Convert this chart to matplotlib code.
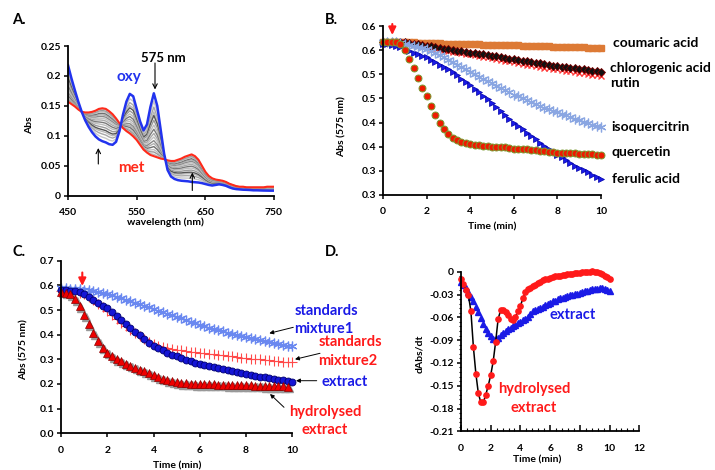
import numpy as np
import matplotlib
matplotlib.use('Agg')
import matplotlib.pyplot as plt
from matplotlib.ticker import FixedLocator, FixedFormatter, MultipleLocator, FormatStrFormatter
import matplotlib.transforms as mtrans

plt.rcParams['font.family'] = ['Lato', 'DejaVu Sans']
plt.rcParams['font.weight'] = 'bold'

# ---------------- DATA ----------------
# Panel A: spectra (5 nm steps)
wavelength = list(range(450, 751, 5))
oxy_abs = [0.218, 0.196, 0.176, 0.157, 0.140, 0.126, 0.115, 0.106, 0.099, 0.094,
           0.091, 0.089, 0.086, 0.085, 0.090, 0.108, 0.135, 0.157, 0.170, 0.166,
           0.145, 0.124, 0.109, 0.119, 0.148, 0.171, 0.150, 0.110, 0.070, 0.043,
           0.032, 0.028, 0.026, 0.025, 0.0245, 0.024, 0.023, 0.0225, 0.022, 0.021,
           0.0195, 0.018, 0.017, 0.018, 0.019, 0.018, 0.0165, 0.014, 0.012, 0.011,
           0.0105, 0.010, 0.0098, 0.0095, 0.009, 0.009, 0.0088, 0.0086, 0.0085, 0.0084, 0.0084]
met_abs = [0.157, 0.153, 0.149, 0.144, 0.140, 0.139, 0.139, 0.140, 0.142, 0.145,
           0.146, 0.145, 0.141, 0.136, 0.129, 0.121, 0.113, 0.108, 0.104, 0.099,
           0.093, 0.085, 0.077, 0.072, 0.068, 0.066, 0.064, 0.062, 0.061, 0.059,
           0.058, 0.058, 0.060, 0.062, 0.065, 0.067, 0.069, 0.066, 0.060, 0.050,
           0.040, 0.033, 0.029, 0.027, 0.026, 0.025, 0.023, 0.020, 0.018, 0.016,
           0.015, 0.015, 0.014, 0.014, 0.014, 0.014, 0.014, 0.014, 0.015, 0.015, 0.015]
# intermediate spectra: their absorbance at 575 nm
gray_575 = [0.158, 0.148, 0.140, 0.134, 0.126, 0.118, 0.111, 0.104, 0.098, 0.092,
            0.087, 0.082, 0.077, 0.073, 0.069]
gray_cols = ['#c8c8c8', '#a8a8a8', '#b8b8b8', '#555555', '#9a9a9a', '#bdbdbd', '#7a7a7a',
             '#aaaaaa', '#c2c2c2', '#8a8a8a', '#b0b0b0', '#707070', '#c0c0c0', '#999999', '#bbbbbb']

# Panel B: Abs(575) vs time, 0.2 min sampling
time_b = np.linspace(0, 10, 51)
coumaric = [0.567, 0.567, 0.567, 0.567, 0.566, 0.566, 0.566, 0.566, 0.565, 0.565,
            0.565, 0.565, 0.564, 0.564, 0.563, 0.563, 0.563, 0.563, 0.562, 0.562,
            0.562, 0.562, 0.562, 0.561, 0.561, 0.561, 0.561, 0.560, 0.560, 0.560,
            0.560, 0.560, 0.559, 0.559, 0.559, 0.559, 0.558, 0.558, 0.558, 0.557,
            0.557, 0.557, 0.557, 0.556, 0.556, 0.556, 0.556, 0.555, 0.555, 0.554, 0.554]
chlorogenic = [0.567, 0.567, 0.567, 0.567, 0.566, 0.566, 0.565, 0.563, 0.562, 0.560,
               0.559, 0.558, 0.556, 0.555, 0.553, 0.552, 0.551, 0.549, 0.548, 0.546,
               0.545, 0.544, 0.542, 0.541, 0.539, 0.538, 0.537, 0.535, 0.534, 0.532,
               0.531, 0.530, 0.528, 0.527, 0.525, 0.524, 0.523, 0.521, 0.520, 0.518,
               0.517, 0.516, 0.515, 0.513, 0.512, 0.511, 0.510, 0.509, 0.507, 0.506, 0.505]
rutin = [0.567, 0.567, 0.567, 0.566, 0.566, 0.565, 0.563, 0.562, 0.560, 0.558,
         0.557, 0.555, 0.554, 0.552, 0.551, 0.549, 0.547, 0.546, 0.544, 0.543,
         0.541, 0.539, 0.538, 0.536, 0.535, 0.533, 0.531, 0.530, 0.528, 0.527,
         0.525, 0.523, 0.522, 0.520, 0.519, 0.517, 0.516, 0.514, 0.513, 0.511,
         0.510, 0.509, 0.507, 0.506, 0.504, 0.503, 0.502, 0.500, 0.499, 0.498, 0.497]
isoquercitrin = [0.567, 0.567, 0.567, 0.566, 0.565, 0.563, 0.561, 0.559, 0.557, 0.555,
                 0.553, 0.549, 0.544, 0.540, 0.535, 0.530, 0.525, 0.520, 0.515, 0.510,
                 0.505, 0.500, 0.495, 0.491, 0.486, 0.481, 0.476, 0.472, 0.467, 0.463,
                 0.458, 0.454, 0.450, 0.446, 0.442, 0.438, 0.435, 0.431, 0.428, 0.424,
                 0.421, 0.418, 0.415, 0.411, 0.408, 0.405, 0.402, 0.399, 0.396, 0.393, 0.390]
quercetin = [0.567, 0.567, 0.567, 0.566, 0.562, 0.550, 0.532, 0.512, 0.492, 0.472,
             0.454, 0.434, 0.415, 0.399, 0.386, 0.376, 0.369, 0.364, 0.360, 0.357,
             0.355, 0.354, 0.353, 0.352, 0.351, 0.350, 0.350, 0.349, 0.349, 0.348,
             0.346, 0.346, 0.346, 0.345, 0.344, 0.343, 0.342, 0.341, 0.340, 0.339,
             0.338, 0.337, 0.337, 0.336, 0.336, 0.335, 0.335, 0.334, 0.334, 0.333, 0.333]
ferulic = [0.562, 0.562, 0.561, 0.559, 0.556, 0.552, 0.549, 0.545, 0.542, 0.538,
           0.535, 0.530, 0.525, 0.520, 0.515, 0.510, 0.504, 0.498, 0.491, 0.485,
           0.478, 0.470, 0.463, 0.455, 0.448, 0.440, 0.432, 0.424, 0.416, 0.408,
           0.400, 0.393, 0.386, 0.379, 0.372, 0.365, 0.358, 0.352, 0.346, 0.339,
           0.333, 0.328, 0.322, 0.317, 0.311, 0.306, 0.301, 0.297, 0.292, 0.288, 0.283]
b_ticks = [0.25, 0.30, 0.35, 0.40, 0.45, 0.50, 0.55, 0.60]
b_ticklabels = ['0.3', '0.3', '0.4', '0.4', '0.5', '0.5', '0.6', '0.6']

# Panel C: Abs(575) vs time, 0.2 min sampling
time_c = np.linspace(0, 10, 51)
mixture1 = [0.588, 0.588, 0.587, 0.586, 0.585, 0.583, 0.581, 0.578, 0.574, 0.570,
            0.565, 0.559, 0.553, 0.547, 0.541, 0.535, 0.529, 0.523, 0.517, 0.511,
            0.505, 0.498, 0.492, 0.485, 0.479, 0.472, 0.466, 0.459, 0.453, 0.446,
            0.440, 0.435, 0.429, 0.424, 0.418, 0.413, 0.408, 0.404, 0.399, 0.395,
            0.390, 0.386, 0.382, 0.378, 0.374, 0.370, 0.367, 0.363, 0.360, 0.356, 0.353]
mixture2 = [0.578, 0.578, 0.577, 0.575, 0.570, 0.563, 0.552, 0.540, 0.526, 0.512,
            0.497, 0.481, 0.465, 0.449, 0.434, 0.420, 0.407, 0.394, 0.382, 0.371,
            0.362, 0.355, 0.349, 0.344, 0.341, 0.338, 0.336, 0.333, 0.331, 0.329,
            0.327, 0.325, 0.323, 0.320, 0.318, 0.316, 0.314, 0.312, 0.309, 0.307,
            0.305, 0.303, 0.301, 0.300, 0.298, 0.296, 0.294, 0.293, 0.291, 0.290, 0.288]
extract_c = [0.580, 0.580, 0.579, 0.577, 0.572, 0.566, 0.554, 0.541, 0.528, 0.518,
             0.507, 0.492, 0.476, 0.460, 0.444, 0.428, 0.412, 0.397, 0.382, 0.368,
             0.355, 0.345, 0.336, 0.327, 0.319, 0.312, 0.306, 0.299, 0.293, 0.287,
             0.282, 0.277, 0.273, 0.268, 0.264, 0.259, 0.255, 0.251, 0.247, 0.244,
             0.240, 0.237, 0.233, 0.230, 0.227, 0.224, 0.221, 0.218, 0.215, 0.213, 0.210]
hydrolysed_c = [0.575, 0.571, 0.563, 0.545, 0.515, 0.480, 0.443, 0.405, 0.375, 0.347,
                0.327, 0.312, 0.301, 0.292, 0.282, 0.274, 0.266, 0.258, 0.251, 0.244,
                0.237, 0.229, 0.222, 0.216, 0.211, 0.207, 0.204, 0.202, 0.201, 0.200,
                0.199, 0.199, 0.198, 0.198, 0.197, 0.197, 0.196, 0.196, 0.195, 0.195,
                0.194, 0.194, 0.193, 0.193, 0.192, 0.192, 0.191, 0.190, 0.190, 0.189]

# Panel D: dAbs/dt, 10 s sampling
time_d = np.linspace(0, 10, 61)
d_hydrolysed = [-0.010, -0.016, -0.024, -0.031, -0.052, -0.099, -0.134, -0.160, -0.172, -0.172,
                -0.162, -0.150, -0.136, -0.118, -0.092, -0.062, -0.051, -0.050, -0.053, -0.057,
                -0.062, -0.063, -0.059, -0.052, -0.045, -0.035, -0.027, -0.023, -0.021, -0.019,
                -0.017, -0.015, -0.013, -0.011, -0.010, -0.009, -0.008, -0.007, -0.006, -0.005,
                -0.005, -0.004, -0.004, -0.003, -0.003, -0.003, -0.002, -0.002, -0.002, -0.001,
                -0.001, -0.001, 0.000, 0.001, 0.000, -0.001, -0.002, -0.003, -0.005, -0.007, -0.009]
d_extract = [-0.013, -0.017, -0.022, -0.027, -0.033, -0.039, -0.046, -0.053, -0.061, -0.069,
             -0.076, -0.081, -0.085, -0.088, -0.089, -0.087, -0.083, -0.080, -0.078, -0.076,
             -0.074, -0.072, -0.070, -0.068, -0.066, -0.064, -0.062, -0.059, -0.056, -0.052,
             -0.050, -0.049, -0.048, -0.046, -0.044, -0.042, -0.041, -0.039, -0.038, -0.036,
             -0.035, -0.034, -0.033, -0.032, -0.031, -0.030, -0.029, -0.029, -0.028, -0.027,
             -0.026, -0.025, -0.024, -0.023, -0.023, -0.023, -0.022, -0.022, -0.023, -0.024, -0.025]
d_yticks = [-0.21, -0.18, -0.15, -0.12, -0.09, -0.06, -0.03, 0]
d_yticklabels = ['-0.21', '-0.18', '-0.15', '-0.12', '-0.09', '-0.06', '-0.03', '0']

# ---------------- FIGURE ----------------
W, H = 715, 470
fig = plt.figure(figsize=(W / 100, H / 100), dpi=100)


def P(x, y):
    return (x / W, 1 - y / H)


def make_ax(l, t, r, b):
    ax = fig.add_axes([l / W, 1 - b / H, (r - l) / W, (b - t) / H])
    for s in ('top', 'right'):
        ax.spines[s].set_visible(False)
    for s in ('left', 'bottom'):
        ax.spines[s].set_linewidth(1.3)
    ax.tick_params(direction='out', length=3, width=1.1, labelsize=7.5, pad=2)
    ax.tick_params(axis='x', pad=6)
    return ax


def boldticks(ax):
    for lab in ax.get_xticklabels() + ax.get_yticklabels():
        lab.set_fontweight('bold')


def ftext(x, y, s, **kw):
    kw.setdefault('ha', 'center')
    kw.setdefault('va', 'center')
    kw.setdefault('fontweight', 'bold')
    fig.text(*P(x, y), s, **kw)


def farrow(tail, head, color='black', lw=0.8, style='-|>', ms=6):
    fig.add_artist(matplotlib.patches.FancyArrowPatch(
        P(*tail), P(*head), transform=fig.transFigure, arrowstyle=style,
        mutation_scale=ms, color=color, lw=lw, shrinkA=0, shrinkB=0))

# ---- Panel A ----
axA = make_ax(68, 46, 274, 195.7)
oxy = np.array(oxy_abs)
met = np.array(met_abs)
i575 = wavelength.index(575)
for h, c in zip(gray_575, gray_cols):
    f = (h - met[i575]) / (oxy[i575] - met[i575])
    axA.plot(wavelength, f * oxy + (1 - f) * met, color=c, lw=1.0)
axA.plot(wavelength, met, color='#ff2a1a', lw=1.5)
axA.plot(wavelength, oxy, color='#2233ee', lw=1.8)
axA.set_xlim(450, 750)
axA.set_ylim(0, 0.25)
axA.xaxis.set_major_locator(FixedLocator([450, 550, 650, 750]))
axA.yaxis.set_major_locator(FixedLocator([0, 0.05, 0.1, 0.15, 0.2, 0.25]))
axA.yaxis.set_major_formatter(FixedFormatter(['0', '0.05', '0.1', '0.15', '0.2', '0.25']))
boldticks(axA)

# ---- Panel B ----
axB = make_ax(383, 26, 601, 195)
axB.plot(time_b, coumaric, ls='none', marker='s', ms=4.5, color='#dd7a35', mec='#dd7a35')
axB.plot(time_b, rutin, ls='none', marker='x', ms=5, color='#ff3b3b', mew=1.0)
axB.plot(time_b, chlorogenic, ls='none', marker='D', ms=4, color='#111111', mec='#7a0000', mew=0.6)
axB.plot(time_b, isoquercitrin, ls='none', marker=(6, 2, 0), ms=7, color='#8aa6e2', mew=0.9)
axB.plot(time_b, ferulic, ls='none', marker='>', ms=5, color='#1a1ae6', mec='#0000aa', mew=0.5)
axB.plot(time_b, quercetin, ls='none', marker='o', ms=5, color='#ee1a00', mec='#7a9a30', mew=0.7)
axB.set_xlim(0, 10)
axB.set_ylim(0.25, 0.6)
axB.xaxis.set_major_locator(MultipleLocator(2))
axB.yaxis.set_major_locator(FixedLocator(b_ticks))
axB.yaxis.set_major_formatter(FixedFormatter(b_ticklabels))
boldticks(axB)
for ln in axB.lines:
    ln.set_clip_on(False)

# ---- Panel C ----
axC = make_ax(61, 260.7, 292.3, 433.3)
shadow = mtrans.offset_copy(axC.transData, fig=fig, x=1.2, y=-1.2, units='points')
axC.plot(time_c[:len(hydrolysed_c)], hydrolysed_c, ls='none', marker='^', ms=6,
         color='#999999', mec='#999999', transform=shadow)
axC.plot(time_c, mixture2, ls='none', marker='+', ms=7, color='#ff4a4a', mew=0.8)
axC.plot(time_c, mixture1, ls='none', marker=(6, 2, 0), ms=7, color='#6a88f0', mew=0.9)
axC.plot(time_c, extract_c, ls='none', marker='o', ms=5, color='#1515d5', mec='#000070', mew=0.6)
axC.plot(time_c[:len(hydrolysed_c)], hydrolysed_c, ls='none', marker='^', ms=6,
         color='#ee0000', mec='#8a0000', mew=0.5)
axC.set_xlim(0, 10)
axC.set_ylim(0, 0.7)
axC.xaxis.set_major_locator(MultipleLocator(2))
axC.yaxis.set_major_locator(MultipleLocator(0.1))
axC.yaxis.set_major_formatter(FormatStrFormatter('%.1f'))
boldticks(axC)
for ln in axC.lines:
    ln.set_clip_on(False)

# ---- Panel D ----
axD = make_ax(461, 271.7, 639.3, 431.3)
axD.plot(time_d, d_extract, ls='none', marker='^', ms=4, color='#1a1ae6', mec='#1a1ae6')
axD.plot(time_d, d_hydrolysed, color='black', lw=1.1, marker='o', ms=3.8,
         mfc='#ff1a1a', mec='#ff1a1a')
axD.set_xlim(0, 12)
axD.set_ylim(-0.21, 0)
axD.xaxis.set_major_locator(MultipleLocator(2))
axD.xaxis.set_minor_locator(MultipleLocator(0.4))
axD.yaxis.set_major_locator(FixedLocator(d_yticks))
axD.yaxis.set_major_formatter(FixedFormatter(d_yticklabels))
axD.yaxis.set_minor_locator(MultipleLocator(0.006))
axD.tick_params(axis='x', which='major', direction='in', length=4, pad=9)
axD.tick_params(axis='x', which='minor', direction='in', length=2, width=0.8)
axD.tick_params(axis='y', which='minor', direction='out', length=1.5, width=0.8)
boldticks(axD)
for ln in axD.lines:
    ln.set_clip_on(False)

# ---------------- TEXT ----------------
ftext(18.8, 20, 'A.', fontsize=10.5)
ftext(331.7, 20, 'B.', fontsize=10.5)
ftext(19, 251.7, 'C.', fontsize=10.5)
ftext(331.7, 251.7, 'D.', fontsize=10.5)

ftext(30, 125, 'Abs', fontsize=7.5, rotation=90)
ftext(165, 222.7, 'wavelength (nm)', fontsize=7.5)
ftext(342, 127, 'Abs (575 nm)', fontsize=7.5, rotation=90)
ftext(492.5, 226.7, 'Time (min)', fontsize=7.5)
ftext(24.3, 350, 'Abs (575 nm)', fontsize=7.5, rotation=90)
ftext(177.5, 466, 'Time (min)', fontsize=7.5)
ftext(419.3, 354, 'dAbs/dt', fontsize=7.5, rotation=90)
ftext(536.7, 460, 'Time (min)', fontsize=7.5)

# panel A annotations
ftext(163.3, 58.3, '575 nm', fontsize=9.5)
ftext(129, 77, 'oxy', fontsize=11, color='#2233ee')
ftext(131, 168, 'met', fontsize=11, color='#ff2a1a')
farrow((155, 63), (155, 89.5), style='->', ms=8)
farrow((98.3, 164), (98.3, 148), style='->', ms=8)
farrow((192.3, 190.5), (192.3, 172.5), style='->', ms=8)

# panel B labels
for (x, y, s) in [(613, 43, 'coumaric acid'), (610, 68, 'chlorogenic acid'),
                  (610, 83.3, 'rutin'), (611.7, 127.3, 'isoquercitrin'),
                  (611.7, 152, 'quercetin'), (611.7, 179.3, 'ferulic acid')]:
    ftext(x, y, s, fontsize=10, ha='left')
farrow((392.3, 24), (392.3, 35), color='#ff1a1a', lw=1.5, style='-|>,head_length=0.45,head_width=0.22', ms=10)

# panel C labels
farrow((82.3, 272.5), (82.3, 286), color='#ff1a1a', lw=1.5, style='-|>,head_length=0.45,head_width=0.22', ms=10)
ftext(326, 310.7, 'standards', fontsize=10.5, color='#1a1ae6')
ftext(324, 329.3, 'mixture1', fontsize=10.5, color='#1a1ae6')
ftext(350, 342.3, 'standards', fontsize=10.5, color='#ff1a1a')
ftext(348, 360.7, 'mixture2', fontsize=10.5, color='#ff1a1a')
ftext(344.7, 382.3, 'extract', fontsize=10.5, color='#1a1ae6')
ftext(325.5, 411.7, 'hydrolysed', fontsize=10.5, color='#ff1a1a')
ftext(325, 430, 'extract', fontsize=10.5, color='#ff1a1a')
farrow((293.3, 327.3), (269.3, 333.3), lw=0.7, ms=6)
farrow((320, 353.3), (295, 359.3), lw=0.7, ms=6)
farrow((316.7, 380.7), (296, 380.7), lw=0.7, ms=6)
farrow((284, 407.3), (270, 394), lw=0.7, ms=6)

# panel D labels
ftext(572.3, 315, 'extract', fontsize=10.5, color='#1a1ae6')
ftext(534.3, 389.3, 'hydrolysed', fontsize=10.5, color='#ff1a1a')
ftext(534, 408.3, 'extract', fontsize=10.5, color='#ff1a1a')

fig.savefig('out.png', dpi=100)
